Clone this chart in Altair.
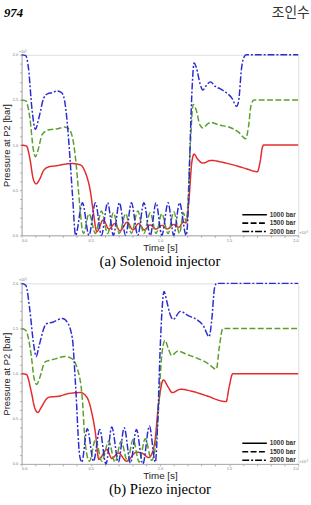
import altair as alt
import pandas as pd

# ---------------- data (time in 1e-3 s, pressure in 1e3 bar) ----------------
# (a) Solenoid injector
a_t_1000 = [0, 0.035, 0.06, 0.085, 0.106, 0.13, 0.16, 0.2, 0.25, 0.3, 0.36, 0.426, 0.46, 0.497, 0.52, 0.544,
            0.59, 0.632, 0.675, 0.71, 0.764, 0.805, 0.845, 0.888, 0.93, 0.97, 1.018, 1.053, 1.10, 1.136, 1.17, 1.19,
            1.21, 1.23, 1.247, 1.27, 1.31, 1.37, 1.45, 1.53, 1.62, 1.704, 1.725, 1.74, 1.75, 2.0]
a_p_1000 = [1.0, 0.99, 0.85, 0.62, 0.57, 0.62, 0.72, 0.76, 0.77, 0.785, 0.795, 0.78, 0.7, 0.49, 0.24, 0.04,
            0.17, 0.07, 0.13, 0.05, 0.145, 0.06, 0.13, 0.06, 0.115, 0.07, 0.11, 0.07, 0.12, 0.09, 0.145, 0.14,
            0.4, 0.8, 0.9, 0.85, 0.8, 0.83, 0.81, 0.78, 0.74, 0.705, 0.82, 0.97, 1.0, 1.0]

a_t_1500 = [0, 0.03, 0.06, 0.085, 0.1, 0.12, 0.15, 0.2, 0.26, 0.31, 0.34, 0.37, 0.395, 0.42, 0.44, 0.448,
            0.487, 0.534, 0.577, 0.622, 0.664, 0.707, 0.752, 0.794, 0.84, 0.884, 0.93, 0.972, 1.014, 1.059, 1.10,
            1.142, 1.17, 1.19, 1.2, 1.22, 1.24, 1.26, 1.29, 1.31, 1.35, 1.37, 1.43, 1.5, 1.57, 1.62, 1.64, 1.66,
            1.68, 2.0]
a_p_1500 = [1.5, 1.49, 1.3, 0.95, 0.87, 0.95, 1.12, 1.17, 1.18, 1.2, 1.18, 1.07, 0.78, 0.34, 0.05, 0.02,
            0.24, 0.02, 0.27, 0.02, 0.25, 0.02, 0.24, 0.02, 0.27, 0.02, 0.25, 0.02, 0.24, 0.02, 0.26,
            0.02, 0.25, 0.15, 0.3, 1.0, 1.45, 1.4, 1.22, 1.19, 1.24, 1.25, 1.22, 1.2, 1.14, 1.07, 1.2, 1.45,
            1.5, 1.5]

a_t_2000 = [0, 0.03, 0.05, 0.075, 0.1, 0.125, 0.16, 0.19, 0.22, 0.26, 0.29, 0.31, 0.33, 0.35, 0.37, 0.39,
            0.44, 0.487, 0.534, 0.577, 0.622, 0.664, 0.707, 0.752, 0.794, 0.84, 0.884, 0.93, 0.972, 1.014, 1.059,
            1.10, 1.142, 1.19, 1.205, 1.22, 1.235, 1.247, 1.265, 1.29, 1.31, 1.34, 1.365, 1.40, 1.44, 1.48, 1.52,
            1.555, 1.57, 1.59, 1.61, 1.625, 2.0]
a_p_2000 = [2.0, 1.99, 1.85, 1.4, 1.175, 1.3, 1.52, 1.57, 1.58, 1.6, 1.58, 1.5, 1.25, 0.85, 0.4, 0.0,
            0.36, 0.0, 0.36, 0.0, 0.36, 0.0, 0.36, 0.0, 0.36, 0.0, 0.36, 0.0, 0.36, 0.0, 0.36,
            0.0, 0.36, 0.0, 0.3, 1.1, 1.7, 1.91, 1.85, 1.68, 1.61, 1.67, 1.7, 1.65, 1.62, 1.58, 1.52,
            1.43, 1.5, 1.85, 1.98, 2.0, 2.0]

# (b) Piezo injector
b_t_1000 = [0, 0.035, 0.07, 0.095, 0.118, 0.14, 0.18, 0.2, 0.27, 0.34, 0.426, 0.473, 0.509, 0.534, 0.558,
            0.617, 0.652, 0.70, 0.76, 0.83, 0.87, 0.92, 0.96, 0.99, 1.025, 1.06, 1.089, 1.148, 1.243, 1.337,
            1.479, 1.50, 1.527, 2.0]
b_p_1000 = [1.0, 0.99, 0.8, 0.62, 0.57, 0.62, 0.72, 0.74, 0.75, 0.78, 0.79, 0.736, 0.556, 0.34, 0.05,
            0.16, 0.06, 0.12, 0.03, 0.13, 0.12, 0.07, 0.21, 0.66, 0.93, 0.85, 0.79, 0.827, 0.8, 0.755,
            0.69, 0.85, 1.0, 1.0]

b_t_1500 = [0, 0.03, 0.07, 0.09, 0.11, 0.13, 0.17, 0.21, 0.26, 0.31, 0.36, 0.402, 0.438, 0.46, 0.49,
            0.535, 0.58, 0.63, 0.675, 0.72, 0.765, 0.806, 0.85, 0.894, 0.94, 0.972, 0.99, 1.01, 1.037, 1.06,
            1.085, 1.13, 1.2, 1.27, 1.34, 1.408, 1.43, 1.455, 2.0]
b_p_1500 = [1.5, 1.48, 1.2, 0.95, 0.88, 0.95, 1.13, 1.15, 1.17, 1.19, 1.17, 1.06, 0.74, 0.23, 0.03,
            0.27, 0.03, 0.25, 0.02, 0.25, 0.03, 0.27, 0.02, 0.28, 0.04, 0.25, 0.6, 1.15, 1.37, 1.28,
            1.2, 1.25, 1.21, 1.17, 1.12, 1.05, 1.3, 1.5, 1.5]

b_t_2000 = [0, 0.03, 0.06, 0.085, 0.106, 0.125, 0.178, 0.225, 0.296, 0.33, 0.367, 0.39, 0.42, 0.435,
            0.475, 0.52, 0.565, 0.61, 0.652, 0.70, 0.742, 0.787, 0.83, 0.877, 0.924, 0.967, 0.985, 1.0, 1.015,
            1.03, 1.05, 1.075, 1.096, 1.148, 1.207, 1.266, 1.314, 1.356, 1.375, 1.395, 1.41, 2.0]
b_p_2000 = [2.0, 1.98, 1.7, 1.35, 1.19, 1.3, 1.55, 1.57, 1.61, 1.57, 1.39, 0.88, 0.09, 0.02,
            0.39, 0.03, 0.38, 0.0, 0.41, 0.02, 0.40, 0.01, 0.38, 0.0, 0.42, 0.02, 0.5, 1.2, 1.7,
            1.91, 1.8, 1.65, 1.6, 1.69, 1.64, 1.6, 1.53, 1.41, 1.6, 1.95, 2.0, 2.0]

series_names = ["1000 bar", "1500 bar", "2000 bar"]
series_colors = ["#e32b2b", "#5b9e2d", "#2b2bd2"]
series_dash = [[1, 0], [6, 2.5], [7, 2, 2, 2]]
tick_vals = [round(i * 0.1, 1) for i in range(21)]
captions = ["(a)  Solenoid  injector", "(b)  Piezo  injector"]


def frame(ts, ps):
    rows = []
    for name, t, p in zip(series_names, ts, ps):
        for i, (tt, pp) in enumerate(zip(t, p)):
            rows.append({"t": tt, "p": pp, "series": name, "label": name, "idx": i})
    return pd.DataFrame(rows)


df_a = frame([a_t_1000, a_t_1500, a_t_2000], [a_p_1000, a_p_1500, a_p_2000])
df_b = frame([b_t_1000, b_t_1500, b_t_2000], [b_p_1000, b_p_1500, b_p_2000])

W, H = 282, 184
label_expr = "abs(datum.value*2 - round(datum.value*2)) < 0.001 ? format(datum.value, '.1f') : ''"
dash_scale = alt.Scale(domain=series_names, range=series_dash)

# manual legend rows (pixel row within the plot area)
legend_df = pd.DataFrame({"label": series_names,
                          "ypix": [H - 21 + 8.6 * i for i in range(len(series_names))]})


def panel(df, caption, header):
    lines = alt.Chart(df).mark_line(strokeWidth=1.5, interpolate="monotone").encode(
        x=alt.X("t:Q", scale=alt.Scale(domain=[0, 2.0], nice=False),
                axis=alt.Axis(values=tick_vals, labelExpr=label_expr, title="Time [s]",
                              tickSize=2, labelFontSize=4, labelColor="#777", labelPadding=1,
                              domainColor="#aaa", tickColor="#aaa", grid=False,
                              titleFontSize=10, titleFontWeight="normal", titleColor="#222",
                              titlePadding=0, titleFont="Liberation Sans")),
        y=alt.Y("p:Q", scale=alt.Scale(domain=[0, 2.0], nice=False),
                axis=alt.Axis(values=tick_vals, labelExpr=label_expr, title="Pressure at P2 [bar]",
                              tickSize=2, labelFontSize=4, labelColor="#777", labelPadding=2,
                              domainColor="#aaa", tickColor="#aaa", grid=False,
                              titleFontSize=9.5, titleFontWeight="normal", titleColor="#222",
                              titlePadding=1, titleFont="Liberation Sans")),
        color=alt.Color("series:N", scale=alt.Scale(domain=series_names, range=series_colors), legend=None),
        strokeDash=alt.StrokeDash("label:N", scale=dash_scale, legend=None),
        order="idx:Q",
    )
    leg_rule = alt.Chart(legend_df).mark_rule(color="black", strokeWidth=1.6).encode(
        x=alt.value(225), x2=alt.value(250),
        y=alt.Y("ypix:Q", scale=None),
        strokeDash=alt.StrokeDash("label:N", scale=dash_scale, legend=None),
    )
    leg_text = alt.Chart(legend_df).mark_text(
        align="left", baseline="middle", fontSize=6.5, fontWeight="bold", color="#333",
        font="Liberation Sans").encode(
        x=alt.value(253), y=alt.Y("ypix:Q", scale=None), text="label:N")
    exp_y = alt.Chart(pd.DataFrame({"s": ["×10³"]})).mark_text(
        fontSize=4, align="left", baseline="bottom", color="#777").encode(
        x=alt.value(-3), y=alt.value(-1), text="s:N")
    exp_x = alt.Chart(pd.DataFrame({"s": ["×10⁻³"]})).mark_text(
        fontSize=4, align="left", baseline="bottom", color="#777").encode(
        x=alt.value(W + 1), y=alt.value(H), text="s:N")
    layers = [lines, leg_rule, leg_text, exp_y, exp_x]
    if header:
        h1 = alt.Chart(pd.DataFrame({"s": ["974"]})).mark_text(
            fontSize=13, fontWeight="bold", fontStyle="italic", font="Liberation Serif",
            align="left", baseline="middle", color="black").encode(
            x=alt.value(-18), y=alt.value(-43), text="s:N")
        h2 = alt.Chart(pd.DataFrame({"s": ["조인수"]})).mark_text(
            fontSize=14, font="Noto Sans CJK KR", align="left", baseline="middle",
            color="#333").encode(x=alt.value(255), y=alt.value(-43), text="s:N")
        layers += [h1, h2]
    return alt.layer(*layers).properties(
        width=W, height=H,
        title=alt.TitleParams(caption, orient="bottom", font="Liberation Serif", fontSize=15,
                              fontWeight="normal", color="black", offset=2),
    )


chart = alt.vconcat(panel(df_a, captions[0], True), panel(df_b, captions[1], False),
                    spacing=8).properties(
    padding={"left": 0, "top": 0, "right": 0, "bottom": 0}
).configure_view(stroke="#dddddd")

chart.save("out.html", embed_options={"renderer": "svg", "actions": False})
